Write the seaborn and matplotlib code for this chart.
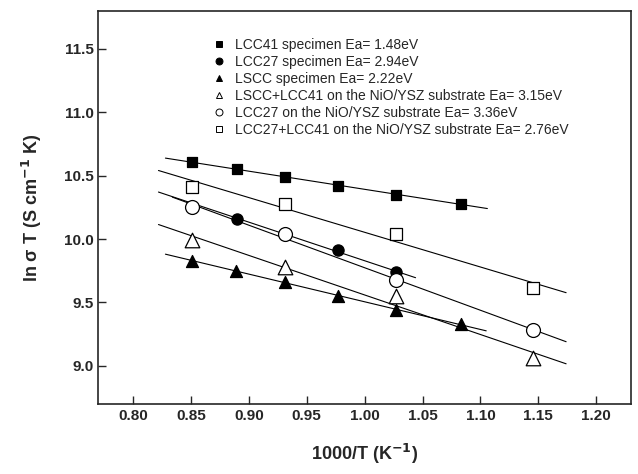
import numpy as np
import pandas as pd
import seaborn as sns
import matplotlib.pyplot as plt

# Arrhenius data (x = 1000/T, y = ln(sigma T))
lcc41_x = [0.851, 0.890, 0.931, 0.977, 1.027, 1.083]
lcc41_y = [10.61, 10.55, 10.49, 10.42, 10.35, 10.28]

lcc27_x = [0.890, 0.977, 1.027]
lcc27_y = [10.16, 9.91, 9.74]

lscc_x = [0.851, 0.889, 0.931, 0.977, 1.027, 1.083]
lscc_y = [9.83, 9.75, 9.66, 9.55, 9.44, 9.33]

lscc_lcc41_sub_x = [0.851, 0.931, 1.027, 1.145]
lscc_lcc41_sub_y = [9.99, 9.78, 9.55, 9.06]

lcc27_sub_x = [0.851, 0.931, 1.027, 1.145]
lcc27_sub_y = [10.25, 10.04, 9.68, 9.28]

lcc27_lcc41_sub_x = [0.851, 0.931, 1.027, 1.145]
lcc27_lcc41_sub_y = [10.41, 10.28, 10.04, 9.61]

labels = ["LCC41 specimen Ea= 1.48eV",
          "LCC27 specimen Ea= 2.94eV",
          "LSCC specimen Ea= 2.22eV",
          "LSCC+LCC41 on the NiO/YSZ substrate Ea= 3.15eV",
          "LCC27 on the NiO/YSZ substrate Ea= 3.36eV",
          "LCC27+LCC41 on the NiO/YSZ substrate Ea= 2.76eV"]

# x-span of each drawn fit line
fit_span = [(0.828, 1.106), (0.822, 1.044), (0.828, 1.105),
            (0.822, 1.174), (0.834, 1.174), (0.822, 1.174)]

series = [(lcc41_x, lcc41_y, "s", "black", 55),
          (lcc27_x, lcc27_y, "o", "black", 65),
          (lscc_x, lscc_y, "^", "black", 75),
          (lscc_lcc41_sub_x, lscc_lcc41_sub_y, "^", "white", 110),
          (lcc27_sub_x, lcc27_sub_y, "o", "white", 100),
          (lcc27_lcc41_sub_x, lcc27_lcc41_sub_y, "s", "white", 80)]

sns.set_style("ticks")
plt.rcParams['font.family'] = ['Liberation Sans', 'DejaVu Sans']

fig = plt.figure(figsize=(6.38, 4.74), dpi=100)
ax = fig.add_axes([0.154, 0.148, 0.835, 0.829])

# fit lines first so markers sit on top
for (xs, ys, m, fc, s), (x0, x1) in zip(series, fit_span):
    k, b = np.polyfit(xs, ys, 1)
    lx = np.array([x0, x1])
    sns.lineplot(x=lx, y=k * lx + b, ax=ax, color="black", lw=0.8, zorder=2)

handles = []
for (xs, ys, m, fc, s), lab in zip(series, labels):
    df = pd.DataFrame({"x": xs, "y": ys})
    sns.scatterplot(data=df, x="x", y="y", ax=ax, marker=m, s=s,
                    facecolor=fc, edgecolor="black", linewidth=0.9, zorder=3)
    handles.append(plt.Line2D([], [], ls="none", marker=m, markersize=5,
                              markerfacecolor=fc, markeredgecolor="black",
                              markeredgewidth=0.7, label=lab))

ax.legend(handles=handles, loc="upper left", bbox_to_anchor=(0.2, 0.945),
          frameon=False, fontsize=10, handletextpad=0.6, labelspacing=0.22,
          handlelength=1.2, borderaxespad=0)

ax.set_xlim(0.77, 1.23)
ax.set_ylim(8.7, 11.8)
ax.set_xticks(np.arange(0.80, 1.201, 0.05))
ax.set_yticks(np.arange(9.0, 11.51, 0.5))
ax.xaxis.set_major_formatter(plt.FormatStrFormatter("%.2f"))
ax.yaxis.set_major_formatter(plt.FormatStrFormatter("%.1f"))
ax.tick_params(direction="in", length=6, width=1, labelsize=11)
for t in ax.get_xticklabels() + ax.get_yticklabels():
    t.set_fontweight("bold")
for sp in ax.spines.values():
    sp.set_linewidth(1.2)

ax.set_xlabel("1000/T (K$^{\\mathbf{-1}}$)", fontsize=13, fontweight="bold", labelpad=14)
ax.set_ylabel("ln σ T (S cm$^{\\mathbf{-1}}$ K)", fontsize=13, fontweight="bold", labelpad=14)

fig.savefig("out.png", dpi=100)
